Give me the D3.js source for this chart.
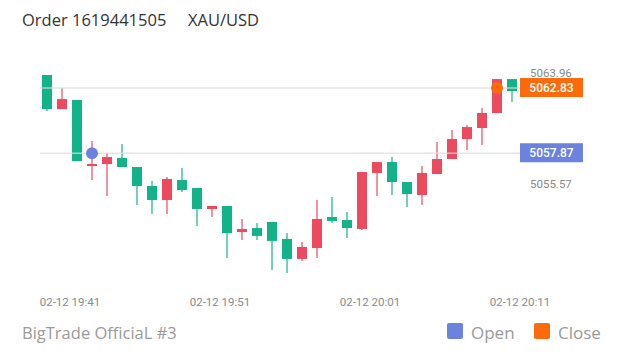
<!DOCTYPE html>
<html><head><meta charset="utf-8">
<script src="https://cdn.jsdelivr.net/npm/d3@7"></script>
<style>html,body{margin:0;padding:0;background:#fff;}svg{display:block;}</style>
</head><body>
<svg id="chart" width="620" height="352"></svg>
<script>
const times = ["19:40","19:41","19:42","19:43","19:44","19:45","19:46","19:47","19:48","19:49",
  "19:50","19:51","19:52","19:53","19:54","19:55","19:56","19:57","19:58","19:59",
  "20:00","20:01","20:02","20:03","20:04","20:05","20:06","20:07","20:08","20:09","20:10","20:11"];
const opens  = [5063.82,5061.23,5061.92,5056.90,5057.05,5057.51,5056.82,5055.38,5054.31,5055.83,
  5055.23,5053.63,5053.86,5051.88,5052.18,5052.64,5051.35,5049.83,5050.66,5053.02,
  5052.79,5052.11,5056.37,5057.20,5055.68,5054.69,5056.29,5057.43,5058.95,5059.79,5060.93,5063.51];
const closes = [5061.23,5061.99,5057.28,5057.05,5057.58,5056.82,5055.38,5054.31,5055.91,5055.07,
  5053.63,5053.86,5051.80,5052.11,5051.58,5051.20,5049.83,5050.74,5052.87,5052.72,
  5052.18,5056.44,5057.20,5055.68,5054.77,5056.37,5057.43,5058.95,5059.86,5060.93,5063.51,5062.60];
const highs  = [5063.82,5062.83,5061.92,5058.80,5057.89,5058.57,5056.82,5055.76,5056.06,5056.75,
  5055.23,5053.86,5053.86,5052.87,5052.56,5052.64,5051.80,5051.12,5054.31,5054.54,
  5053.40,5056.44,5057.20,5057.58,5055.68,5056.90,5058.72,5059.64,5060.02,5061.31,5063.51,5063.51];
const lows   = [5061.08,5061.23,5057.28,5055.83,5054.62,5056.82,5053.93,5053.25,5053.25,5054.92,
  5052.34,5053.02,5049.90,5051.27,5051.27,5048.99,5048.76,5049.67,5049.90,5052.56,
  5051.42,5052.03,5054.62,5054.69,5053.78,5053.93,5056.29,5057.43,5058.12,5058.50,5060.93,5061.77];
const xTickTimes = ["19:41","19:51","20:01","20:11"];
const datePrefix = "02-12";
const yTicks = [5063.96, 5055.57];
const openPrice = 5057.87, openTime = "19:43";
const closePrice = 5062.83, closeTime = "20:10";
const titleText = "Order 1619441505";
const symbolText = "XAU/USD";
const footerText = "BigTrade OfficiaL #3";
const legendItems = ["Open","Close"];

const UP = "#ec4b5f", DOWN = "#13b38a", BLUE = "#6b83de", ORANGE = "#fd6a0c";

const svg = d3.select("#chart");
const x = d3.scaleBand().domain(times).range([39.5, 519.5]);
const y = d3.scaleLinear().domain([5048, 5065]).range([283, 59.5]);
const bw = 10;

const data = times.map((t,i)=>({t,o:opens[i],c:closes[i],h:highs[i],l:lows[i]}));
const g = svg.append("g");
data.forEach(d=>{
  const cx = x(d.t) + x.bandwidth()/2;
  const col = d.c >= d.o ? UP : DOWN;
  g.append("line").attr("x1",cx).attr("x2",cx).attr("y1",y(d.h)).attr("y2",y(d.l))
    .attr("stroke",col).attr("stroke-width",1.2);
  const top = y(Math.max(d.o,d.c)), bot = y(Math.min(d.o,d.c));
  g.append("rect").attr("x",cx-bw/2).attr("y",top).attr("width",bw).attr("height",Math.max(1.5,bot-top))
    .attr("fill",col);
});

// price lines
[openPrice, closePrice].forEach(p=>{
  svg.append("line").attr("x1",40).attr("x2",520).attr("y1",y(p)).attr("y2",y(p))
    .attr("stroke","#dcdcdc").attr("stroke-opacity",0.75).attr("stroke-width",1.5);
});

// markers
svg.append("circle").attr("cx",x(openTime)+x.bandwidth()/2).attr("cy",y(openPrice)).attr("r",6).attr("fill",BLUE);
svg.append("circle").attr("cx",x(closeTime)+x.bandwidth()/2).attr("cy",y(closePrice)).attr("r",6).attr("fill",ORANGE);

// y ticks
const font = "Roboto, 'Open Sans', sans-serif";
yTicks.forEach(v=>{
  svg.append("text").attr("x",530).attr("y",y(v)).attr("dy","0.35em")
    .attr("font-family",font).attr("font-size",11.5).attr("fill","#8a8a8a").text(v.toFixed(2));
});
// price labels
[[closePrice,ORANGE],[openPrice,BLUE]].forEach(([p,c])=>{
  svg.append("rect").attr("x",520).attr("y",y(p)-10).attr("width",63).attr("height",19).attr("fill",c);
  svg.append("text").attr("x",551.5).attr("y",y(p)).attr("dy","0.35em").attr("text-anchor","middle")
    .attr("font-family",font).attr("font-size",12).attr("font-weight",500).attr("fill","#fff").text(p.toFixed(2));
});

// x axis labels
xTickTimes.forEach(t=>{
  svg.append("text").attr("x",x(t)+x.bandwidth()/2+8).attr("y",302).attr("dy","0.35em").attr("text-anchor","middle")
    .attr("font-family",font).attr("font-size",11.5).attr("fill","#8a8a8a").text(datePrefix+" "+t);
});

// title
const tf = "'Open Sans', 'Noto Sans', sans-serif";
svg.append("text").attr("x",22).attr("y",26).attr("font-family",tf).attr("font-size",16.5).attr("fill","#333").text(titleText);
svg.append("text").attr("x",188).attr("y",26).attr("font-family",tf).attr("font-size",16.5).attr("fill","#333").text(symbolText);

// footer
svg.append("text").attr("x",22).attr("y",339).attr("font-family",tf).attr("font-size",16.5).attr("fill","#9a9a9a").text(footerText);
const legX = [447, 534];
legendItems.forEach((n,i)=>{
  svg.append("rect").attr("x",legX[i]).attr("y",323).attr("width",16).attr("height",16).attr("rx",2)
    .attr("fill", i===0?BLUE:ORANGE);
  svg.append("text").attr("x",legX[i]+24).attr("y",339).attr("font-family",tf).attr("font-size",17)
    .attr("fill","#9a9a9a").text(n);
});
</script>
</body></html>
